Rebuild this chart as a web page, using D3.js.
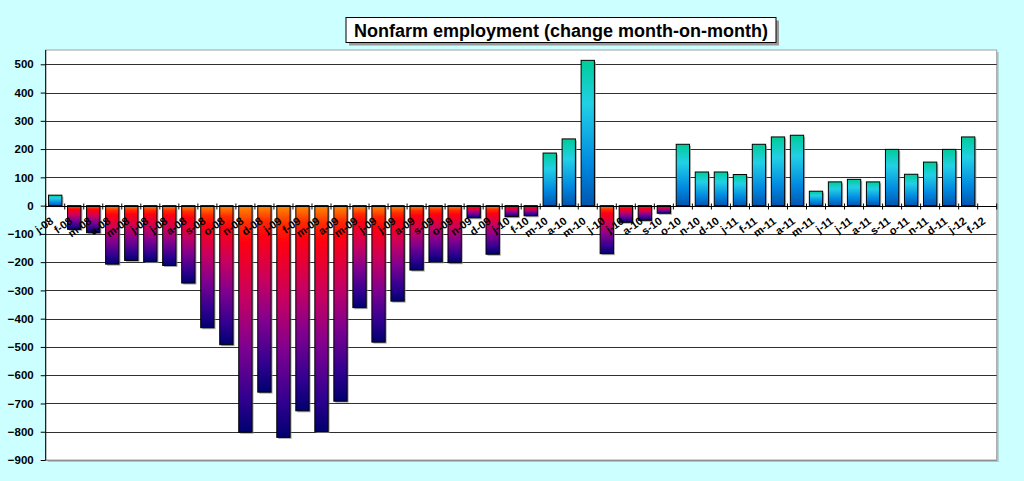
<!DOCTYPE html>
<html>
<head>
<meta charset="utf-8">
<script src="https://cdn.jsdelivr.net/npm/d3@7"></script>
<style>
  body { margin: 0; background: #ccffff; }
  svg { display: block; }
</style>
</head>
<body>
<div id="chart"></div>
<script>
// month labels, jan 2008 .. feb 2012
const months = [
  "j-08","f-08","m-08","a-08","m-08","j-08","j-08","a-08","s-08","o-08","n-08","d-08",
  "j-09","f-09","m-09","a-09","m-09","j-09","j-09","a-09","s-09","o-09","n-09","d-09",
  "j-10","f-10","m-10","a-10","m-10","j-10","j-10","a-10","s-10","o-10","n-10","d-10",
  "j-11","f-11","m-11","a-11","m-11","j-11","j-11","a-11","s-11","o-11","n-11","d-11",
  "j-12","f-12"
];
// change in nonfarm payrolls, thousands (f-12 has no bar)
const changes = [
  37, -84, -96, -207, -194, -198, -212, -274, -432, -492, -802, -660,
  -820, -726, -799, -692, -361, -483, -338, -228, -199, -202, -43, -172,
  -39, -36, 186, 236, 514, -170, -59, -52, -27, 217, 119, 119,
  110, 217, 243, 249, 51, 84, 93, 84, 199, 111, 154, 199,
  243, null
];
const yTicks = [-900,-800,-700,-600,-500,-400,-300,-200,-100,0,100,200,300,400,500];
const title = "Nonfarm employment (change month-on-month)";

const W = 1024, H = 481;
const plot = { left: 45.7, right: 996.7, top: 50, bottom: 460 };

const data = months.map((m, i) => ({ key: i, label: m, value: changes[i] }));

const svg = d3.select("#chart").append("svg")
    .attr("width", W)
    .attr("height", H);

svg.append("rect")
    .attr("width", W).attr("height", H)
    .attr("fill", "#ccffff");

const x = d3.scaleBand()
    .domain(data.map(d => d.key))
    .range([plot.left, plot.right])
    .paddingInner(0.3)
    .paddingOuter(0.15);

const y = d3.scaleLinear()
    .domain([-900, 500])
    .range([plot.bottom, 64.3]);

// gradients
const defs = svg.append("defs");
const posGrad = defs.append("linearGradient")
    .attr("id", "gradPos")
    .attr("x1", 0).attr("y1", 0).attr("x2", 0).attr("y2", 1);
[["0%", "#00cc99"], ["30%", "#22d0e6"], ["72%", "#0088e0"], ["100%", "#0056b0"]]
    .forEach(s => posGrad.append("stop").attr("offset", s[0]).attr("stop-color", s[1]));

const negGrad = defs.append("linearGradient")
    .attr("id", "gradNeg")
    .attr("x1", 0).attr("y1", 0).attr("x2", 0).attr("y2", 1);
[["0%", "#ff8c00"], ["8%", "#ff2a00"], ["16%", "#ff0010"], ["40%", "#c80060"],
 ["62%", "#800090"], ["85%", "#300090"], ["100%", "#000070"]]
    .forEach(s => negGrad.append("stop").attr("offset", s[0]).attr("stop-color", s[1]));

// plot area with a little shadow
svg.append("rect")
    .attr("x", plot.left + 2).attr("y", plot.top + 2)
    .attr("width", plot.right - plot.left).attr("height", plot.bottom - plot.top)
    .attr("fill", "#a8c8c8");
svg.append("rect")
    .attr("x", plot.left).attr("y", plot.top)
    .attr("width", plot.right - plot.left).attr("height", plot.bottom - plot.top)
    .attr("fill", "white")
    .attr("stroke", "#a0a0a0")
    .attr("stroke-width", 1);

// gridlines
svg.append("g")
    .selectAll("line")
    .data(yTicks.filter(t => t !== 0))
    .enter().append("line")
    .attr("x1", plot.left)
    .attr("x2", plot.right)
    .attr("y1", d => Math.round(y(d)) + 0.5)
    .attr("y2", d => Math.round(y(d)) + 0.5)
    .attr("stroke", d => d === -900 ? "#909090" : "#303030")
    .attr("stroke-width", 1);

// y axis
const yAxis = svg.append("g")
    .attr("transform", `translate(${plot.left},0)`)
    .call(d3.axisLeft(y).tickValues(yTicks).tickSize(5).tickSizeOuter(0).tickPadding(7));
yAxis.select(".domain").remove();
yAxis.selectAll(".tick line").attr("stroke", "#000");
yAxis.selectAll(".tick text")
    .attr("font-family", "Liberation Sans, Arial, sans-serif")
    .attr("font-weight", "bold")
    .attr("font-size", "11.5px")
    .attr("fill", "#000");
svg.append("line")
    .attr("x1", plot.left).attr("x2", plot.left)
    .attr("y1", plot.top).attr("y2", plot.bottom)
    .attr("stroke", "#000");

// bars
const bars = data.filter(d => d.value !== null);
const barW = x.bandwidth();

svg.append("g").selectAll("rect")
    .data(bars)
    .enter().append("rect")
    .attr("x", d => x(d.key) + 1.5)
    .attr("y", d => Math.min(y(d.value), y(0)) + 1.5)
    .attr("width", barW)
    .attr("height", d => Math.abs(y(d.value) - y(0)))
    .attr("fill", "#8a8a8a")
    .attr("opacity", 0.7);

svg.append("g").selectAll("rect")
    .data(bars)
    .enter().append("rect")
    .attr("x", d => x(d.key))
    .attr("y", d => Math.min(y(d.value), y(0)))
    .attr("width", barW)
    .attr("height", d => Math.abs(y(d.value) - y(0)))
    .attr("fill", d => d.value >= 0 ? "url(#gradPos)" : "url(#gradNeg)")
    .attr("stroke", "#000")
    .attr("stroke-width", 1);

// x axis at zero
const step = x.step();
const bounds = data.map(d => x(d.key) - step * 0.15).concat([x(data[data.length - 1].key) + barW + step * 0.15]);
const y0 = Math.round(y(0)) + 0.5;
svg.append("line")
    .attr("x1", plot.left).attr("x2", plot.right)
    .attr("y1", y0).attr("y2", y0)
    .attr("stroke", "#000");
svg.append("g").selectAll("line")
    .data(bounds)
    .enter().append("line")
    .attr("x1", d => d).attr("x2", d => d)
    .attr("y1", y0 - 3).attr("y2", y0 + 3)
    .attr("stroke", "#000");

// rotated month labels
svg.append("g").selectAll("text")
    .data(data)
    .enter().append("text")
    .attr("transform", d => `translate(${x(d.key) + barW / 2 - 1},${y(0) + 17}) rotate(-36)`)
    .attr("text-anchor", "end")
    .attr("font-family", "Liberation Sans, Arial, sans-serif")
    .attr("font-weight", "bold")
    .attr("font-size", "11px")
    .attr("fill", "#000")
    .text(d => d.label);

// title box
const tg = svg.append("g");
const tText = tg.append("text")
    .attr("x", 561)
    .attr("y", 36.5)
    .attr("text-anchor", "middle")
    .attr("font-family", "Liberation Sans, Arial, sans-serif")
    .attr("font-weight", "bold")
    .attr("font-size", "18px")
    .attr("fill", "#000")
    .text(title);
const bb = tText.node().getBBox();
tg.insert("rect", "text")
    .attr("x", bb.x - 8 + 3).attr("y", 17.5 + 3)
    .attr("width", bb.width + 16).attr("height", 25)
    .attr("fill", "#999");
tg.insert("rect", "text")
    .attr("x", bb.x - 8).attr("y", 17.5)
    .attr("width", bb.width + 16).attr("height", 25)
    .attr("fill", "white")
    .attr("stroke", "#000");
</script>
</body>
</html>
